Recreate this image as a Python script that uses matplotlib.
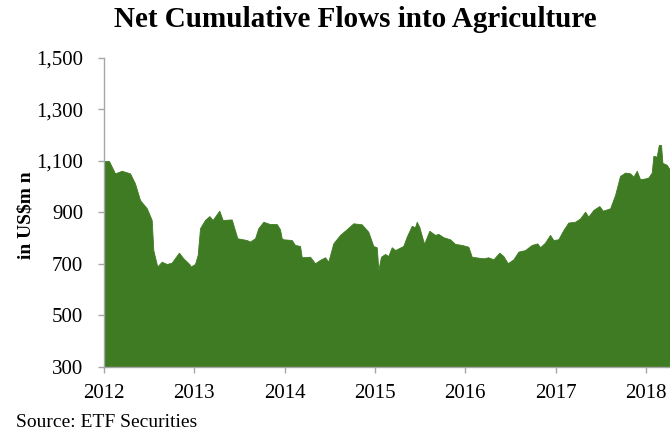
import matplotlib.pyplot as plt
from matplotlib.ticker import FuncFormatter

# net cumulative flows (US$ mn)
years = [2012.000, 2012.055, 2012.122, 2012.196, 2012.288, 2012.343, 2012.399,
         2012.473, 2012.528, 2012.546, 2012.590, 2012.639, 2012.694, 2012.749,
         2012.786, 2012.830, 2012.878, 2012.944, 2012.960, 2013.007, 2013.037,
         2013.063, 2013.118, 2013.166, 2013.203, 2013.276, 2013.314, 2013.414,
         2013.476, 2013.580, 2013.616, 2013.672, 2013.708, 2013.764, 2013.838,
         2013.912, 2013.948, 2013.967, 2013.985, 2014.078, 2014.114, 2014.170,
         2014.189, 2014.281, 2014.336, 2014.391, 2014.447, 2014.483, 2014.538,
         2014.613, 2014.687, 2014.760, 2014.853, 2014.926, 2014.981, 2015.019,
         2015.037, 2015.066, 2015.111, 2015.147, 2015.185, 2015.222, 2015.313,
         2015.351, 2015.406, 2015.443, 2015.462, 2015.491, 2015.543, 2015.601,
         2015.664, 2015.701, 2015.756, 2015.830, 2015.886, 2015.960, 2016.033,
         2016.071, 2016.199, 2016.254, 2016.310, 2016.376, 2016.420, 2016.469,
         2016.531, 2016.587, 2016.661, 2016.735, 2016.797, 2016.827, 2016.882,
         2016.937, 2016.974, 2017.029, 2017.085, 2017.140, 2017.214, 2017.270,
         2017.325, 2017.361, 2017.417, 2017.483, 2017.521, 2017.602, 2017.657,
         2017.712, 2017.768, 2017.823, 2017.860, 2017.897, 2017.934, 2017.989,
         2018.026, 2018.063, 2018.081, 2018.118, 2018.141, 2018.166, 2018.181,
         2018.229, 2018.265]
flows = [1100, 1100, 1052, 1062, 1052, 1013, 948,
         917, 871, 754, 690, 709, 700, 705,
         723, 744, 722, 700, 690, 700, 735,
         839, 871, 886, 871, 907, 871, 873,
         800, 793, 787, 800, 839, 864, 855,
         855, 835, 800, 796, 793, 774, 770,
         726, 728, 703, 716, 726, 709, 780,
         813, 835, 858, 854, 825, 770, 765,
         677, 728, 739, 731, 765, 754, 770,
         806, 848, 843, 864, 843, 778, 829,
         813, 817, 804, 796, 778, 774, 767,
         728, 722, 726, 718, 744, 731, 703,
         718, 748, 754, 774, 780, 765, 783,
         813, 793, 796, 832, 861, 864, 877,
         903, 884, 910, 925, 907, 916, 968,
         1042, 1055, 1052, 1039, 1062, 1029, 1032,
         1036, 1055, 1120, 1117, 1162, 1162, 1093,
         1085, 1065]

year_ticks = [2012, 2013, 2014, 2015, 2016, 2017, 2018]
value_ticks = [300, 500, 700, 900, 1100, 1300, 1500]

plt.rcParams['font.family'] = ['Liberation Serif', 'DejaVu Serif']

fig = plt.figure(figsize=(6.7, 4.34), dpi=100)
ax = fig.add_axes([0.1552, 0.1544, 0.8448, 0.712])

ax.fill_between(years, flows, 300, color="#3e7b22", linewidth=0.6,
                edgecolor="#3e7b22")

ax.set_xlim(2012, 2018.265)
ax.set_ylim(300, 1500)
ax.set_xticks(year_ticks)
ax.set_yticks(value_ticks)
ax.yaxis.set_major_formatter(FuncFormatter(lambda v, _: f"{int(v):,}"))

for side in ("top", "right"):
    ax.spines[side].set_visible(False)
for side in ("left", "bottom"):
    ax.spines[side].set_color("#a6a6a6")
    ax.spines[side].set_linewidth(1.0)
ax.tick_params(axis="both", colors="#a6a6a6", length=4, width=1.0,
               labelcolor="black", labelsize=15)
ax.tick_params(axis="y", pad=11)
ax.tick_params(axis="x", pad=8)

ax.set_ylabel("in US$m n", fontsize=14, fontweight="bold")
ax.yaxis.set_label_coords(-0.122, 0.49)

fig.text(0.53, 0.955, "Net Cumulative Flows into Agriculture",
         ha="center", va="center", fontsize=21, fontweight="bold")
fig.text(0.024, 0.027, "Source: ETF Securities", ha="left", va="center",
         fontsize=14)

fig.savefig("out.png", dpi=100)
